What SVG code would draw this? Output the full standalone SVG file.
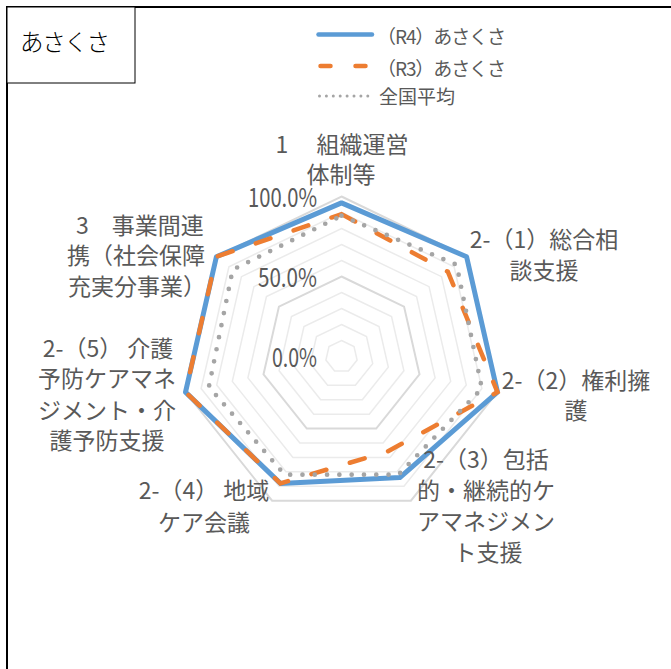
<svg xmlns="http://www.w3.org/2000/svg" width="671" height="669" viewBox="0 0 671 669">
<style>
.lbl{font-family:"Noto Sans CJK JP","Noto Sans CJK SC",sans-serif;font-size:23px;fill:#595959;text-anchor:middle}
.val{font-family:"Noto Sans CJK JP",sans-serif;font-size:26px;fill:#595959;text-anchor:end}
.leg{font-family:"Noto Sans CJK JP",sans-serif;font-size:19px;fill:#595959}
.gmin{fill:none;stroke:#EBEBEB;stroke-width:1.5}
.gmaj{fill:none;stroke:#D9D9D9;stroke-width:2}
.r4{fill:none;stroke:#5B9BD5;stroke-width:5;stroke-linejoin:round;stroke-linecap:round}
.r3{fill:none;stroke:#ED7D31;stroke-width:4.5;stroke-linecap:round;stroke-dasharray:15.5 24.5}
.avg{fill:none;stroke:#A5A5A5;stroke-width:4.7;stroke-linecap:round;stroke-dasharray:0 12.3}
</style>
<rect x="0" y="0" width="671" height="669" fill="#FFFFFF"/>
<rect x="7" y="7" width="720" height="720" fill="none" stroke="#000" stroke-width="2"/>
<g id="title">
<rect x="7" y="7" width="128" height="76" fill="#FFFFFF" stroke="#000" stroke-width="1"/>
<text x="20" y="51" font-family="'Noto Sans CJK JP',sans-serif" font-size="23.5" font-weight="300" fill="#000" textLength="90" lengthAdjust="spacing">あさくさ</text>
</g>
<g id="legend">
<path d="M318.5 34.5 H372" stroke="#5B9BD5" stroke-width="4.5" stroke-linecap="round" fill="none"/>
<path d="M320.5 66 H330.5 M355.5 66 H365.5" stroke="#ED7D31" stroke-width="4.5" stroke-linecap="round" fill="none"/>
<path d="M319.5 96 H368" stroke="#A5A5A5" stroke-width="3" stroke-linecap="round" stroke-dasharray="0 6.9" fill="none"/>
<text class="leg" x="377" y="43.5" textLength="129" lengthAdjust="spacing">（R4）あさくさ</text>
<text class="leg" x="377" y="75.5" textLength="129" lengthAdjust="spacing">（R3）あさくさ</text>
<text class="leg" x="379" y="103.5">全国平均</text>
</g>
<g id="grid" transform="translate(341.5 356.5)">
<polygon class="gmin" points="0,-16 12.51,-9.98 15.6,3.56 6.94,14.42 -6.94,14.42 -15.6,3.56 -12.51,-9.98"/>
<polygon class="gmin" points="0,-32 25.02,-19.95 31.2,7.12 13.88,28.83 -13.88,28.83 -31.2,7.12 -25.02,-19.95"/>
<polygon class="gmin" points="0,-48 37.53,-29.93 46.8,10.68 20.83,43.25 -20.83,43.25 -46.8,10.68 -37.53,-29.93"/>
<polygon class="gmin" points="0,-64 50.04,-39.9 62.4,14.24 27.77,57.66 -27.77,57.66 -62.4,14.24 -50.04,-39.9"/>
<polygon class="gmaj" points="0,-80 62.55,-49.88 77.99,17.8 34.71,72.08 -34.71,72.08 -77.99,17.8 -62.55,-49.88"/>
<polygon class="gmin" points="0,-96 75.06,-59.86 93.59,21.36 41.65,86.49 -41.65,86.49 -93.59,21.36 -75.06,-59.86"/>
<polygon class="gmin" points="0,-112 87.56,-69.83 109.19,24.92 48.59,100.91 -48.59,100.91 -109.19,24.92 -87.56,-69.83"/>
<polygon class="gmin" points="0,-128 100.07,-79.81 124.79,28.48 55.54,115.32 -55.54,115.32 -124.79,28.48 -100.07,-79.81"/>
<polygon class="gmin" points="0,-144 112.58,-89.78 140.39,32.04 62.48,129.74 -62.48,129.74 -140.39,32.04 -112.58,-89.78"/>
<polygon class="gmaj" points="0,-160 125.09,-99.76 155.99,35.6 69.42,144.16 -69.42,144.16 -155.99,35.6 -125.09,-99.76"/>
</g>
<g id="axis-values">
<text class="val" x="317" y="207" textLength="69" lengthAdjust="spacingAndGlyphs">100.0%</text>
<text class="val" x="317" y="287" textLength="59" lengthAdjust="spacingAndGlyphs">50.0%</text>
<text class="val" x="317" y="367" textLength="45" lengthAdjust="spacingAndGlyphs">0.0%</text>
</g>
<g id="series" transform="translate(341.5 356.5)">
<polygon class="r4" points="0,-153.6 125.09,-99.76 155.99,35.6 58.3,121.1 -61.1,126.9 -155.99,35.6 -125.09,-99.76"/>
<polygon class="r3" points="0,-142.4 106.3,-84.8 155.99,35.6 45.8,95.1 -61.1,126.9 -155.99,35.6 -125.09,-99.76"/>
<polygon class="avg" points="0,-140.8 115.1,-91.8 140.4,32 56.9,118.2 -56.9,118.2 -132.6,30.3 -108.8,-86.8"/>
</g>
<g id="label-1">
<text class="lbl" x="342" y="152.7">1　 組織運営</text>
<text class="lbl" x="341" y="182.7">体制等</text>
</g>
<g id="label-2-1">
<text class="lbl" x="544" y="247.7">2-（1）総合相</text>
<text class="lbl" x="544" y="278.7">談支援</text>
</g>
<g id="label-2-2">
<text class="lbl" x="576" y="388.7">2-（2）権利擁</text>
<text class="lbl" x="576" y="418.7">護</text>
</g>
<g id="label-2-3">
<text class="lbl" x="486" y="467.5">2-（3）包括</text>
<text class="lbl" x="486" y="498.5">的・継続的ケ</text>
<text class="lbl" x="486" y="530">アマネジメン</text>
<text class="lbl" x="488" y="560.5">ト支援</text>
</g>
<g id="label-2-4">
<text class="lbl" x="204" y="498.7">2-（4） 地域</text>
<text class="lbl" x="204" y="530.7">ケア会議</text>
</g>
<g id="label-2-5">
<text class="lbl" x="108" y="356.7">2-（5） 介護</text>
<text class="lbl" x="107" y="387">予防ケアマネ</text>
<text class="lbl" x="107" y="418.5">ジメント・介</text>
<text class="lbl" x="107" y="449">護予防支援</text>
</g>
<g id="label-3">
<text class="lbl" x="140" y="233.7">3　事業間連</text>
<text class="lbl" x="136" y="263.7">携（社会保障</text>
<text class="lbl" x="137" y="294.7">充実分事業）</text>
</g>
</svg>
